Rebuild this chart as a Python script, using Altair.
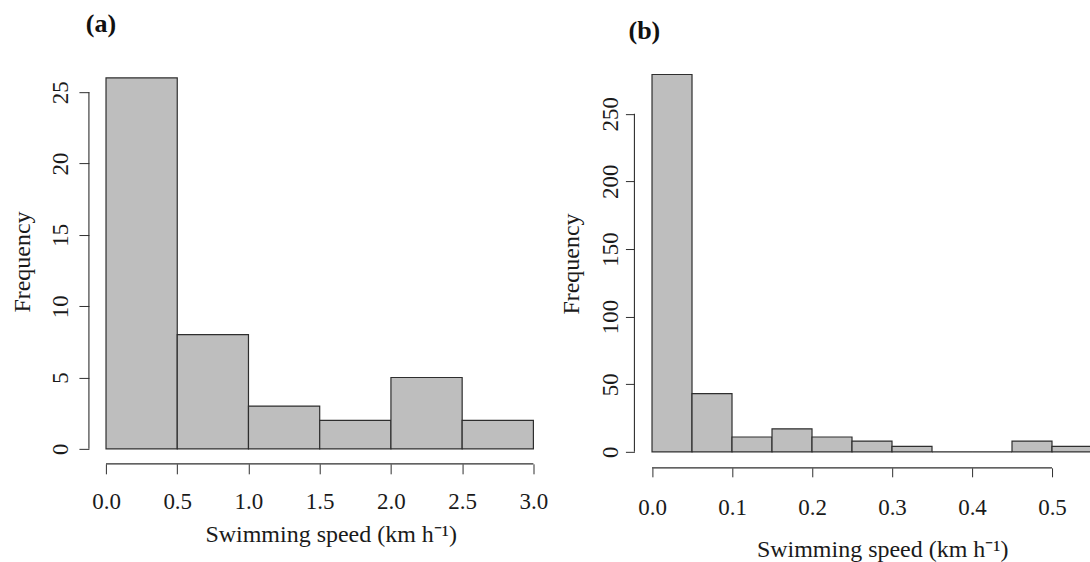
import altair as alt
import pandas as pd

# Panel (a): swimming speed histogram, 0.5 km/h bins
a_edges = [0.0, 0.5, 1.0, 1.5, 2.0, 2.5, 3.0]
a_counts = [26, 8, 3, 2, 5, 2]
a_xticks = [0.0, 0.5, 1.0, 1.5, 2.0, 2.5, 3.0]
a_yticks = [0, 5, 10, 15, 20, 25]

# Panel (b): swimming speed histogram, 0.05 km/h bins
b_edges = [0.00, 0.05, 0.10, 0.15, 0.20, 0.25, 0.30, 0.35, 0.40, 0.45, 0.50, 0.55]
b_counts = [279, 43, 11, 17, 11, 8, 4, 0, 0, 8, 4]
b_xticks = [0.0, 0.1, 0.2, 0.3, 0.4, 0.5]
b_yticks = [0, 50, 100, 150, 200, 250]

FONT = "Liberation Serif"
INK = "#2e2e2e"
TXT = "#1a1a1a"
XTITLE = "Swimming speed (km h\u207b\u00b9)"


def panel(label, edges, counts, xticks, yticks, xdom, ydom, w, h,
          tick, ylab_pad, ytitle_x, xlab_pad, xtitle_x, xtitle_y,
          lab_dx, lab_dy):
    df = pd.DataFrame({"lo": edges[:-1], "hi": edges[1:], "n": counts,
                       "base": [0] * len(counts)})
    xs = alt.Scale(domain=xdom, nice=False, zero=False)
    ys = alt.Scale(domain=ydom, nice=False, zero=False)

    xaxis = alt.Axis(
        values=xticks, format=".1f", domain=False, grid=False,
        tickSize=tick, tickColor=INK, labelPadding=xlab_pad,
        labelFontSize=23, labelFont=FONT, labelColor=TXT,
        labelFlush=False, labelOverlap=False,
        title=XTITLE, titleFont=FONT, titleFontSize=24,
        titleFontWeight="normal", titleColor=TXT,
        titleX=xtitle_x, titleY=xtitle_y, titleAlign="center",
        titleBaseline="alphabetic")
    yaxis = alt.Axis(
        values=yticks, format="d", domain=False, grid=False,
        tickSize=tick, tickColor=INK, labelPadding=ylab_pad,
        labelAngle=270, labelAlign="center", labelBaseline="middle",
        labelFontSize=23, labelFont=FONT, labelColor=TXT,
        labelFlush=False, labelOverlap=False,
        title="Frequency", titleFont=FONT, titleFontSize=24,
        titleFontWeight="normal", titleColor=TXT,
        titleAngle=270, titleX=ytitle_x, titleBaseline="alphabetic")

    bars = alt.Chart(df).mark_bar(
        fill="#bebebe", stroke=INK, strokeWidth=1.2, clip=True
    ).encode(
        x=alt.X("lo:Q", scale=xs, axis=xaxis),
        x2="hi",
        y=alt.Y("n:Q", scale=ys, axis=yaxis),
        y2="base",
    )

    # axis lines run from the first tick to the last tick
    xline = alt.Chart(pd.DataFrame({"lo": [xticks[0]], "hi": [xticks[-1]],
                                    "n": [ydom[0]]})).mark_rule(
        color=INK, strokeWidth=1.1
    ).encode(x=alt.X("lo:Q", scale=xs, axis=xaxis), x2="hi",
             y=alt.Y("n:Q", scale=ys, axis=yaxis))
    yline = alt.Chart(pd.DataFrame({"lo": [xdom[0]], "n": [yticks[0]],
                                    "base": [yticks[-1]]})).mark_rule(
        color=INK, strokeWidth=1.1
    ).encode(x=alt.X("lo:Q", scale=xs, axis=xaxis),
             y=alt.Y("n:Q", scale=ys, axis=yaxis), y2="base")

    return alt.layer(bars, xline, yline).properties(
        width=w, height=h,
        title=alt.Title(label, anchor="start", align="center", dx=lab_dx,
                        dy=lab_dy, offset=0, font=FONT, fontSize=26,
                        fontWeight="bold", color="#111111",
                        baseline="alphabetic", frame="group"),
    )


pa = panel("(a)", a_edges, a_counts, a_xticks, a_yticks,
           [-0.12, 3.12], [-1.05, 27.31], 462, 405,
           tick=10, ylab_pad=18, ytitle_x=-59, xlab_pad=17,
           xtitle_x=242, xtitle_y=78, lab_dx=12, lab_dy=-1)
pb = panel("(b)", b_edges, b_counts, b_xticks, b_yticks,
           [-0.022, 0.5475], [-11.8, 290.3], 456, 409,
           tick=9, ylab_pad=15, ytitle_x=-56, xlab_pad=20,
           xtitle_x=248, xtitle_y=89, lab_dx=10, lab_dy=6)

chart = alt.hconcat(pa, pb, spacing=84, bounds="flush").properties(
    padding={"left": 11, "top": 11, "right": 0, "bottom": 0},
    background="white",
).configure_view(stroke=None)

chart.save("out.html", embed_options={"renderer": "svg", "actions": False})
